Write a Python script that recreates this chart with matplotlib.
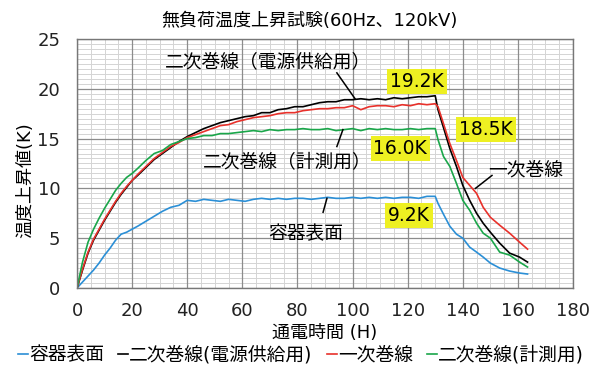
import matplotlib.pyplot as plt
from matplotlib.ticker import MultipleLocator

plt.rcParams['font.family'] = ['DejaVu Sans', 'Noto Sans CJK JP']

# heating phase times (h) and cooling phase times (h)
t_heat = [0, 2, 4, 6, 8, 10, 12, 14, 16, 18, 20, 22, 25, 28, 31, 34, 37,
          40, 43, 46, 49, 52, 55, 58, 61, 64, 67, 70, 73, 76, 79, 82, 85, 88,
          91, 94, 97, 100, 103, 106, 109, 112, 115, 118, 121, 124, 127, 130]
t_cool = [131, 133, 135.3, 137.7, 140, 142.5, 145, 147.4, 150, 153.4, 157, 160.6, 163.5]

# 容器表面
surface = [0, 0.6, 1.2, 1.8, 2.5, 3.3, 4.0, 4.8, 5.4, 5.6, 5.9, 6.2, 6.7, 7.2, 7.7, 8.1, 8.3,
           8.8, 8.7, 8.9, 8.8, 8.7, 8.9, 8.8, 8.7, 8.9, 9.0, 8.9, 9.0, 8.9, 9.0, 9.0, 8.9, 9.0,
           9.1, 9.0, 9.0, 9.1, 9.0, 9.1, 9.0, 9.1, 9.0, 9.1, 9.1, 9.0, 9.2, 9.2,
           8.5, 7.4, 6.2, 5.4, 5.0, 4.1, 3.6, 3.1, 2.5, 2.0, 1.7, 1.5, 1.4]
# 二次巻線(電源供給用)
sec_power = [0, 1.8, 3.5, 4.8, 5.8, 6.8, 7.7, 8.6, 9.4, 10.1, 10.8, 11.3, 12.1, 12.9, 13.5, 14.1, 14.7,
             15.2, 15.6, 16.0, 16.3, 16.6, 16.8, 17.0, 17.2, 17.3, 17.6, 17.6, 17.9, 18.0, 18.2, 18.2, 18.4, 18.6,
             18.7, 18.7, 18.9, 18.9, 19.0, 18.9, 19.0, 18.9, 19.1, 19.0, 19.1, 19.2, 19.2, 19.3,
             17.9, 16.1, 14.0, 12.2, 10.3, 8.8, 7.5, 6.5, 5.6, 4.5, 3.5, 3.1, 2.6]
# 一次巻線
primary = [0, 1.9, 3.6, 4.9, 5.9, 6.9, 7.8, 8.7, 9.5, 10.2, 10.8, 11.4, 12.2, 13.0, 13.6, 14.2, 14.6,
           15.1, 15.4, 15.7, 16.0, 16.3, 16.4, 16.7, 16.9, 17.1, 17.2, 17.3, 17.5, 17.6, 17.6, 17.8, 17.9, 18.0,
           18.0, 18.1, 18.1, 18.3, 17.9, 18.2, 18.3, 18.3, 18.2, 18.4, 18.3, 18.5, 18.4, 18.5,
           18.2, 16.5, 14.5, 12.8, 11.1, 10.3, 9.5, 8.1, 7.1, 6.3, 5.5, 4.6, 3.9]
# 二次巻線(計測用)
sec_meas = [0, 2.6, 4.6, 5.9, 7.0, 8.0, 8.9, 9.8, 10.5, 11.1, 11.5, 12.0, 12.8, 13.5, 13.8, 14.4, 14.7,
            15.0, 15.1, 15.3, 15.3, 15.5, 15.5, 15.6, 15.7, 15.8, 15.7, 15.9, 15.8, 15.9, 15.9, 16.0, 15.9, 15.9,
            16.0, 15.8, 15.9, 16.0, 15.8, 16.0, 15.9, 16.0, 15.9, 15.9, 16.0, 15.9, 16.0, 16.0,
            14.9, 13.2, 12.2, 10.5, 8.8, 7.8, 6.5, 5.5, 5.0, 3.6, 3.3, 2.6, 2.1]

labels = ['容器表面', '二次巻線(電源供給用)', '一次巻線', '二次巻線(計測用)']
colors = ['#2b8fd6', '#000000', '#e8312b', '#1aa64a']
series = [surface, sec_power, primary, sec_meas]

t = t_heat + t_cool

fig = plt.figure(figsize=(5.98, 3.74), dpi=100)
ax = fig.add_axes([0.1288, 0.23, 0.8294, 0.6658])

for ys, c, lab in zip(series, colors, labels):
    ax.plot(t, ys, color=c, lw=1.2, label=lab)

ax.set_xlim(0, 180)
ax.set_ylim(0, 25)
ax.xaxis.set_major_locator(MultipleLocator(20))
ax.xaxis.set_minor_locator(MultipleLocator(5))
ax.yaxis.set_major_locator(MultipleLocator(5))
ax.yaxis.set_minor_locator(MultipleLocator(0.5))
ax.grid(which='minor', color='#d4d4d4', lw=0.7)
ax.set_axisbelow(True)
# major grid drawn on top of the minor one so it stays solid
for v in ax.get_xticks():
    ax.axvline(v, color='#8c8c8c', lw=0.9, zorder=0.8)
for v in ax.get_yticks():
    ax.axhline(v, color='#8c8c8c', lw=0.9, zorder=0.8)
ax.tick_params(which='both', length=0, labelsize=13, colors='#222222')
ax.tick_params(axis='y', pad=12)
ax.tick_params(axis='x', pad=10)
for s in ax.spines.values():
    s.set_color('#777777')
    s.set_linewidth(1.0)

ax.set_xlabel('通電時間 (H)', fontsize=13, labelpad=3)
fig.text(0.042, 0.519, '温度上昇値(K)', rotation=90, fontsize=13, ha='center', va='center')
fig.text(0.518, 0.945, '無負荷温度上昇試験(60Hz、120kV)', fontsize=13, ha='center', va='center')

# peak value boxes
box = dict(boxstyle='square,pad=0.15', fc='#eef022', ec='none')
ax.text(123.4, 20.7, '19.2K', fontsize=13.5, ha='center', va='center', bbox=box)
ax.text(148.4, 15.9, '18.5K', fontsize=13.5, ha='center', va='center', bbox=box)
ax.text(117.3, 14.0, '16.0K', fontsize=13.5, ha='center', va='center', bbox=box)
ax.text(120.4, 7.3, '9.2K', fontsize=13.5, ha='center', va='center', bbox=box)

# series names with leader lines
ax.text(69.2, 22.7, '二次巻線（電源供給用）', fontsize=13.5, ha='center', va='center')
ax.plot([94.3, 100.9], [21.6, 19.0], color='black', lw=1.1)
ax.text(76.2, 12.65, '二次巻線（計測用）', fontsize=13.5, ha='center', va='center')
ax.plot([96.5, 94.3], [15.9, 14.2], color='black', lw=1.1)
ax.text(162.9, 11.85, '一次巻線', fontsize=13.5, ha='center', va='center')
ax.plot([150.6, 144.6], [11.3, 10.0], color='black', lw=1.1)
ax.text(83.1, 5.5, '容器表面', fontsize=13.5, ha='center', va='center')
ax.plot([89.3, 90.7], [7.6, 9.0], color='black', lw=1.1)

fig.legend(loc='lower center', bbox_to_anchor=(0.503, -0.005), ncol=4, frameon=False,
           fontsize=13.5, handlelength=0.55, handletextpad=0.05, columnspacing=0.75,
           borderaxespad=0.2)

fig.savefig('out.png', dpi=100)
